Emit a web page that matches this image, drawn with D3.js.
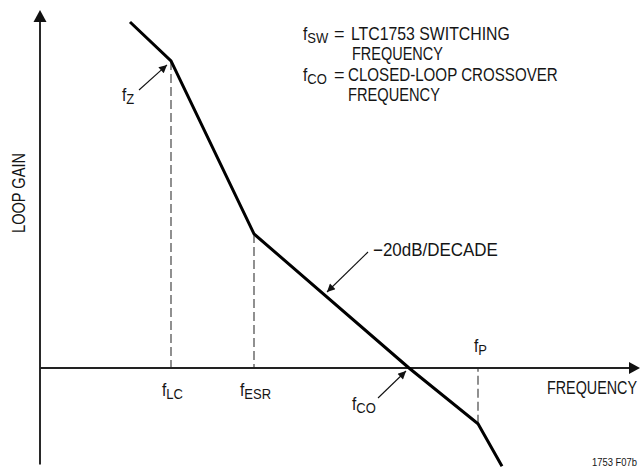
<!DOCTYPE html>
<html>
<head>
<meta charset="utf-8">
<script src="https://cdn.jsdelivr.net/npm/d3@7"></script>
<style>
  html, body { margin: 0; padding: 0; background: #fff; }
  svg { display: block; }
  text { font-family: "Liberation Sans Narrow", "Arial Narrow", "Liberation Sans", sans-serif; fill: #151515; }
</style>
</head>
<body>
<svg id="chart" width="641" height="468"></svg>
<script>
// ---- data (log-frequency in decades, loop gain in dB) ----
const curveLogF = [0.90, 1.31, 2.14, 3.69, 4.38, 4.62];
const curveGain = [80, 71, 31, 0, -12.9, -22.7];
// dashed drop lines at break frequencies (index into curve)
const dropIdx = [1, 2, 4];
// frequency labels: main letter, subscript
const freqNames = ["f", "f", "f", "f", "f"];
const freqSubs = ["Z", "LC", "ESR", "CO", "P"];
const legendSymbols = [["f", "SW"], null, ["f", "CO"], null];
const legendTexts = ["LTC1753 SWITCHING", "FREQUENCY", "CLOSED-LOOP CROSSOVER", "FREQUENCY"];
const xTitle = "FREQUENCY";
const yTitle = "LOOP GAIN";
const slopeLabel = "\u221220dB/DECADE";
const figId = "1753 F07b";

const svg = d3.select("#chart");
const x = d3.scaleLinear().domain([0, 6]).range([40, 640]);
const y = d3.scaleLinear().domain([0, 80]).range([368, 22]);

const pts = curveLogF.map((f, i) => [x(f), y(curveGain[i])]);

// marker for thin annotation arrows
const defs = svg.append("defs");
defs.append("marker").attr("id", "ah").attr("viewBox", "0 0 10 10")
  .attr("refX", 10).attr("refY", 5).attr("markerWidth", 12).attr("markerHeight", 8)
  .attr("markerUnits", "userSpaceOnUse").attr("orient", "auto")
  .append("path").attr("d", "M0,0 L10,5 L0,10 Z").attr("fill", "#111");

// dashed drop lines
dropIdx.forEach(i => {
  svg.append("line")
    .attr("x1", pts[i][0]).attr("x2", pts[i][0])
    .attr("y1", pts[i][1]).attr("y2", y(0))
    .attr("stroke", "#555").attr("stroke-width", 1.3)
    .attr("stroke-dasharray", "9,4");
});

// axes
const yAxisBottom = y(-22.3), yAxisTop = y(82.8);
svg.append("line").attr("x1", x(0)).attr("x2", x(0))
  .attr("y1", yAxisBottom).attr("y2", yAxisTop + 8)
  .attr("stroke", "#111").attr("stroke-width", 1.8);
svg.append("path")
  .attr("d", `M${x(0)},${yAxisTop} L${x(0) - 6.5},${yAxisTop + 12} L${x(0) + 6.5},${yAxisTop + 12} Z`)
  .attr("fill", "#111");
svg.append("line").attr("x1", x(0)).attr("x2", x(6) - 8)
  .attr("y1", y(0)).attr("y2", y(0))
  .attr("stroke", "#222").attr("stroke-width", 1.8);
svg.append("path")
  .attr("d", `M${x(6)},${y(0)} L${x(6) - 11},${y(0) - 6} L${x(6) - 11},${y(0) + 6} Z`)
  .attr("fill", "#111");

// gain curve
svg.append("path")
  .attr("d", d3.line()(pts))
  .attr("fill", "none").attr("stroke", "#000").attr("stroke-width", 3)
  .attr("stroke-linejoin", "miter");

// helper: f with subscript, horizontally condensed
function fLabel(px, py, main, sub, size) {
  const g = svg.append("g").attr("transform", `translate(${px},${py}) scale(0.86,1)`);
  const t = g.append("text").attr("x", 0).attr("y", 0).attr("font-size", size);
  t.append("tspan").text(main);
  t.append("tspan").attr("dy", 3).attr("font-size", size * 0.84).text(sub);
  return t;
}
// text condensed to a given width (via scale, so its box stays inside)
function fitText(px, py, str, len, size, rot) {
  const g = svg.append("g");
  const t = g.append("text").attr("x", 0).attr("y", 0).attr("font-size", size).text(str);
  const w = t.node().getComputedTextLength();
  const sx = len / w;
  if (rot) {
    t.attr("text-anchor", "middle");
    g.attr("transform", `translate(${px},${py}) rotate(-90) scale(${sx},1)`);
  } else {
    g.attr("transform", `translate(${px},${py}) scale(${sx},1)`);
  }
  return t;
}

// frequency labels
const labelPos = [[122, 101], [162, 396], [240, 396], [352, 410], [474, 352]];
freqSubs.forEach((s, i) => fLabel(labelPos[i][0], labelPos[i][1], freqNames[i], s, 18));

// annotation arrows
function arrow(x1, y1, x2, y2) {
  svg.append("line").attr("x1", x1).attr("y1", y1).attr("x2", x2).attr("y2", y2)
    .attr("stroke", "#111").attr("stroke-width", 1.1).attr("marker-end", "url(#ah)");
}
arrow(139, 90, pts[1][0] - 4, pts[1][1] + 4);
arrow(368, 252, 327, 292);
arrow(378, 398, pts[3][0] - 3, y(0) + 3);

// slope label
fitText(373, 256, slopeLabel, 125, 18);

// legend
const legY = [40, 60, 81, 101];
const legX = [351, 352, 348, 348];
const legLen = [159, 91, 210, 92];
legendTexts.forEach((s, i) => {
  if (legendSymbols[i]) {
    fLabel(303, legY[i], legendSymbols[i][0], legendSymbols[i][1], 18);
    svg.append("text").attr("x", 334).attr("y", legY[i]).attr("font-size", 18).text("=");
  }
  fitText(legX[i], legY[i], s, legLen[i], 18);
});

// axis titles
fitText(547, 394, xTitle, 90, 18);
fitText(25, 193, yTitle, 80, 18, true);

fitText(592, 466, figId, 45, 11);
</script>
</body>
</html>
